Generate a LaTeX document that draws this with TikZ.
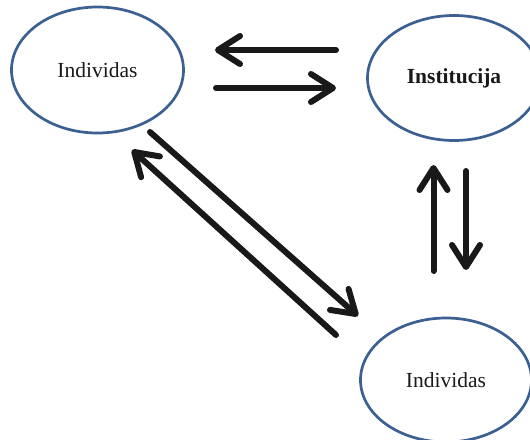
\documentclass[tikz,border=0pt]{standalone}
\usepackage{fontspec}
\setmainfont{Liberation Serif}
\usetikzlibrary{shapes.geometric,arrows.meta}
\definecolor{ellblue}{RGB}{59,96,145}
\definecolor{arrblack}{RGB}{25,25,25}
\begin{document}
\begin{tikzpicture}[x=1pt,y=-1pt,
  bubble/.style={ellipse,draw=ellblue,line width=2.7pt,inner sep=0pt,
    text=black!90,font=\fontsize{21.5}{25}\selectfont},
  flow/.style={draw=arrblack,line width=6pt,line cap=round,
    -{Straight Barb[length=22pt,width=28pt,round]}}]
\useasboundingbox (0,0) rectangle (530,439);
\clip (0,0) rectangle (530,439);
\fill[white] (0,0) rectangle (530,439);
\node[bubble,minimum width=172pt,minimum height=126pt] (i1) at (97.5,70) {Individas};
\node[bubble,minimum width=173pt,minimum height=125pt] (inst) at (454,78) {\textbf{Institucija}};
\node[bubble,minimum width=171pt,minimum height=124pt] (i2) at (446,380) {Individas};
% horizontal pair
\coordinate (h1s) at (336,50);  \coordinate (h1e) at (215,50);
\coordinate (h2s) at (216,88);  \coordinate (h2e) at (336,88);
% diagonal pair
\coordinate (d1s) at (150,132); \coordinate (d1e) at (358,316);
\coordinate (d2s) at (336,335); \coordinate (d2e) at (132,150);
% vertical pair
\coordinate (v1s) at (433.5,271); \coordinate (v1e) at (433.5,165);
\coordinate (v2s) at (466,171);   \coordinate (v2e) at (466,270);
\draw[flow] (h1s) -- (h1e);
\draw[flow] (h2s) -- (h2e);
\draw[flow] (d1s) -- (d1e);
\draw[flow] (d2s) -- (d2e);
\draw[flow] (v1s) -- (v1e);
\draw[flow] (v2s) -- (v2e);
\end{tikzpicture}
\end{document}
